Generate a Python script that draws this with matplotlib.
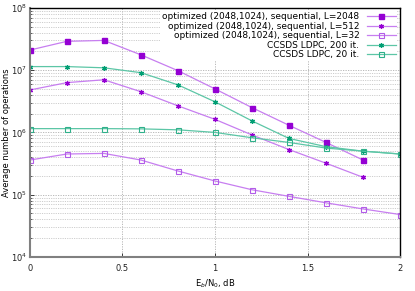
import matplotlib
matplotlib.use('Agg')
import matplotlib.pyplot as plt
from matplotlib.ticker import LogLocator, MultipleLocator, NullFormatter

# Eb/N0, dB
snr = [0.0, 0.2, 0.4, 0.6, 0.8, 1.0, 1.2, 1.4, 1.6, 1.8, 2.0]

# average number of operations
opt_L2048 = [2.1e7, 2.9e7, 3.0e7, 1.76e7, 9.8e6, 5.0e6, 2.5e6, 1.3e6, 6.9e5, 3.6e5]
opt_L512 = [4.8e6, 6.3e6, 7.0e6, 4.5e6, 2.67e6, 1.62e6, 9.1e5, 5.3e5, 3.2e5, 1.9e5]
opt_L32 = [3.6e5, 4.5e5, 4.6e5, 3.6e5, 2.4e5, 1.66e5, 1.2e5, 9.4e4, 7.4e4, 5.9e4, 4.8e4]
ccsds_200 = [1.14e7, 1.14e7, 1.09e7, 9.1e6, 5.8e6, 3.1e6, 1.53e6, 8.0e5, 5.9e5, 5.0e5, 4.5e5]
ccsds_20 = [1.15e6, 1.15e6, 1.15e6, 1.14e6, 1.1e6, 1.0e6, 8.2e5, 6.9e5, 5.6e5, 5.0e5, 4.5e5]

labels = ['optimized (2048,1024), sequential, L=2048',
          'optimized (2048,1024), sequential, L=512',
          'optimized (2048,1024), sequential, L=32',
          'CCSDS LDPC, 200 it.',
          'CCSDS LDPC, 20 it.']

fig = plt.figure(figsize=(4.15, 2.91), dpi=100)
ax = fig.add_axes([0.072, 0.117, 0.892, 0.856])

purple = '#9400d3'
purple_line = '#c77ef0'
green = '#009e73'
green_line = '#5cc6a6'

ax.plot(snr[:len(opt_L2048)], opt_L2048, color=purple_line, lw=0.9, marker='s', ms=3.6,
        mfc=purple, mec=purple, label=labels[0])
ax.plot(snr[:len(opt_L512)], opt_L512, color=purple_line, lw=0.9, marker=(6, 2, 0), ms=3.6,
        mfc=purple, mec=purple, mew=0.9, label=labels[1])
ax.plot(snr, opt_L32, color=purple_line, lw=0.9, marker='s', ms=3.6,
        mfc='none', mec='#b25ce8', mew=0.8, label=labels[2])
ax.plot(snr, ccsds_200, color=green_line, lw=0.9, marker=(6, 2, 0), ms=3.6,
        mfc=green, mec=green, mew=0.9, label=labels[3])
ax.plot(snr, ccsds_20, color=green_line, lw=0.9, marker='s', ms=3.6,
        mfc='none', mec='#2fb08a', mew=0.8, label=labels[4])

ax.set_yscale('log')
ax.set_xlim(0, 2)
ax.set_ylim(1e4, 1e8)
ax.xaxis.set_major_locator(MultipleLocator(0.5))
ax.xaxis.set_major_formatter(plt.FuncFormatter(lambda v, p: f'{v:g}'))
ax.yaxis.set_major_locator(LogLocator(base=10))
ax.yaxis.set_minor_locator(LogLocator(base=10, subs=range(2, 10)))
ax.yaxis.set_minor_formatter(NullFormatter())

ax.grid(which='major', axis='both', color='#b0b0b0', ls=(0, (1.5, 1.5)), lw=0.6)
ax.grid(which='minor', axis='y', color='#c0c0c0', ls=(0, (1.5, 1.5)), lw=0.55)
ax.set_axisbelow(True)

ax.tick_params(which='both', direction='in', labelsize=6, colors='#222222')
ax.tick_params(which='major', length=3, width=0.6)
ax.tick_params(which='minor', length=1.5, width=0.5)
ax.tick_params(axis='x', pad=5)
ax.tick_params(axis='y', pad=2)

for side in ['left', 'bottom']:
    ax.spines[side].set_color('#808080')
    ax.spines[side].set_linewidth(1.5)
for side in ['top', 'right']:
    ax.spines[side].set_color('black')
    ax.spines[side].set_linewidth(1.0)

ax.set_xlabel(r'E$_b$/N$_0$, dB', fontsize=6, labelpad=3)
ax.set_ylabel('Average number of operations', fontsize=6)
ax.yaxis.set_label_coords(-0.05, 0.5)

leg = ax.legend(loc='upper right', fontsize=6.5, markerfirst=False, frameon=True,
                fancybox=False, edgecolor='none', facecolor='white', framealpha=1,
                handlelength=3.2, handletextpad=0.8, labelspacing=0.05,
                borderaxespad=0.3, borderpad=0.2)
for t in leg.get_texts():
    t.set_ha('right')
leg._legend_box.align = 'right'

plt.savefig('out.png', dpi=100)
